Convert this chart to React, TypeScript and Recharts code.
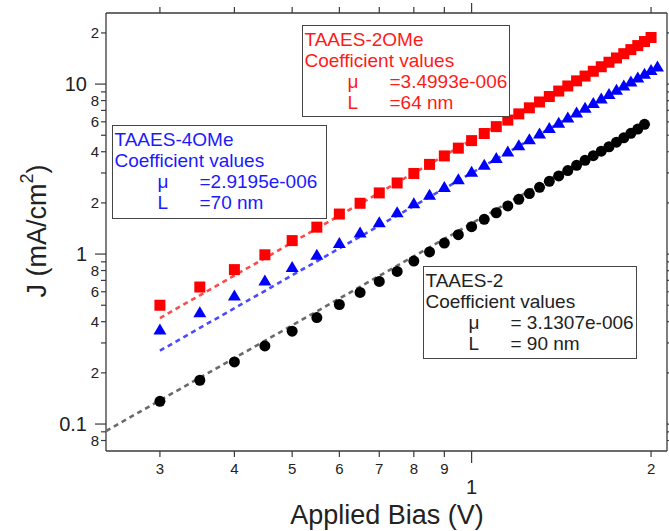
import React from 'react';
import { ScatterChart, Scatter, XAxis, YAxis } from 'recharts';

// Applied bias (V), 0.05 V steps
const biasV = [
  0.3, 0.35, 0.4, 0.45, 0.5, 0.55, 0.6, 0.65, 0.7, 0.75, 0.8, 0.85, 0.9, 0.95,
  1.0, 1.05, 1.1, 1.15, 1.2, 1.25, 1.3, 1.35, 1.4, 1.45, 1.5, 1.55, 1.6, 1.65,
  1.7, 1.75, 1.8, 1.85, 1.9, 1.95, 2.0, 2.05,
];

// Current density J (mA/cm2) per device
const jTAAES2 = [
  0.136, 0.181, 0.232, 0.288, 0.352, 0.423, 0.505, 0.595, 0.69, 0.79, 0.91, 1.03,
  1.16, 1.3, 1.45, 1.6, 1.75, 1.92, 2.1, 2.27, 2.47, 2.68, 2.88, 3.1, 3.33, 3.56,
  3.79, 4.03, 4.28, 4.55, 4.83, 5.13, 5.44, 5.8,
];
const jTAAES2OMe = [
  0.5, 0.64, 0.81, 0.99, 1.2, 1.44, 1.72, 1.99, 2.29, 2.62, 2.98, 3.37, 3.78, 4.2,
  4.65, 5.12, 5.62, 6.14, 6.68, 7.25, 7.85, 8.45, 9.1, 9.75, 10.45, 11.15, 11.9,
  12.65, 13.45, 14.25, 15.1, 15.95, 16.85, 17.8, 18.8,
];
const jTAAES4OMe = [
  0.36, 0.455, 0.57, 0.7, 0.84, 0.99, 1.16, 1.34, 1.54, 1.76, 1.99, 2.23, 2.48,
  2.76, 3.05, 3.35, 3.68, 4.01, 4.37, 4.74, 5.12, 5.52, 5.93, 6.36, 6.8, 7.26,
  7.74, 8.23, 8.74, 9.26, 9.8, 10.35, 10.92, 11.5, 12.1, 12.7,
];

// Fit line end points (V, J)
const fitV2 = [0.2436, 1.95];
const fitJ2 = [0.091, 5.72];
const fitV2OMe = [0.3, 2.0];
const fitJ2OMe = [0.42, 18.8];
const fitV4OMe = [0.3, 2.05];
const fitJ4OMe = [0.27, 12.6];

const xTicks = [0.3, 0.4, 0.5, 0.6, 0.7, 0.8, 0.9, 1, 2];
const xTickLabels = ['3', '4', '5', '6', '7', '8', '9', '1', '2'];
const yTicks = [
  0.08, 0.09, 0.1, 0.2, 0.3, 0.4, 0.5, 0.6, 0.7, 0.8, 0.9, 1, 2, 3, 4, 5, 6, 7, 8,
  9, 10, 20,
];
const yTickLabels = [
  '8', '', '0.1', '2', '', '4', '', '6', '', '8', '', '1', '2', '', '4', '', '6',
  '', '8', '', '10', '2',
];
const yMajor = [0.1, 1, 10];

const X_DOMAIN: [number, number] = [0.2436, 2.127];
const Y_DOMAIN: [number, number] = [0.0694, 26.2];

const FONT = '"Liberation Sans", Arial, sans-serif';
const AXIS = '#3a3a3a';
const INK = '#222';

const toPoints = (vs: number[], js: number[]) => js.map((j, i) => ({ v: vs[i], j }));

const BottomTick = ({ x, y, payload }: any) => {
  const i = xTicks.indexOf(payload.value);
  const major = payload.value === 1;
  return (
    <g>
      <line x1={x} y1={y} x2={x} y2={y + (major ? 12 : 6)} stroke={AXIS} strokeWidth={1.2} />
      <text
        x={x}
        y={y + (major ? 36 : 18)}
        dy="0.35em"
        textAnchor="middle"
        fontFamily={FONT}
        fontSize={major ? 20 : 15}
        fill={INK}
      >
        {xTickLabels[i]}
      </text>
    </g>
  );
};

const TopTick = ({ x, y, payload }: any) => {
  const major = payload.value === 1;
  return <line x1={x} y1={y} x2={x} y2={y - (major ? 10 : 6)} stroke={AXIS} strokeWidth={1.2} />;
};

const LeftTick = ({ x, y, payload }: any) => {
  const i = yTicks.indexOf(payload.value);
  const major = yMajor.includes(payload.value);
  return (
    <g>
      <line x1={x} y1={y} x2={x - (major ? 11 : 5)} y2={y} stroke={AXIS} strokeWidth={1.2} />
      <text
        x={x - (major ? 19 : 7)}
        y={y}
        dy="0.35em"
        textAnchor="end"
        fontFamily={FONT}
        fontSize={major ? 20 : 15}
        fill={INK}
      >
        {yTickLabels[i]}
      </text>
    </g>
  );
};

const RightTick = ({ x, y, payload }: any) => {
  const major = yMajor.includes(payload.value);
  return <line x1={x} y1={y} x2={x + (major ? 8 : 4)} y2={y} stroke={AXIS} strokeWidth={1.2} />;
};

const XTitle = () => (
  <text x={387} y={524} textAnchor="middle" fontFamily={FONT} fontSize={27} fill={INK}>
    Applied Bias (V)
  </text>
);

const YTitle = () => (
  <text
    transform="rotate(-90)"
    x={-231}
    y={46}
    textAnchor="middle"
    fontFamily={FONT}
    fontSize={27}
    fill={INK}
  >
    J (mA/cm
    <tspan dy={-13} fontSize={18}>2</tspan>
    <tspan dy={13}>)</tspan>
  </text>
);

const Square = ({ cx, cy }: any) => (
  <rect x={cx - 5.5} y={cy - 5.5} width={11} height={11} fill="#ff0000" />
);
const Triangle = ({ cx, cy }: any) => (
  <polygon points={`${cx},${cy - 6} ${cx - 6.5},${cy + 5} ${cx + 6.5},${cy + 5}`} fill="#0000ff" />
);
const Dot = ({ cx, cy }: any) => <circle cx={cx} cy={cy} r={5.5} fill="#000" />;
const NoMark = () => <g />;

interface BoxProps {
  left: number;
  top: number;
  width: number;
  height: number;
  color: string;
  title: string;
  mu: string;
  len: string;
}

const CoefBox = ({ left, top, width, height, color, title, mu, len }: BoxProps) => (
  <div
    style={{
      position: 'absolute',
      left,
      top,
      width,
      height,
      boxSizing: 'border-box',
      border: '1.3px solid #444',
      background: '#fff',
      color,
      fontFamily: FONT,
      fontSize: 19,
      lineHeight: '21.3px',
      paddingTop: 2.5,
      paddingLeft: 1.5,
      whiteSpace: 'nowrap',
    }}
  >
    <div>{title}</div>
    <div>Coefficient values</div>
    <div style={{ position: 'relative', height: 21.3 }}>
      <span style={{ position: 'absolute', left: 43 }}>μ</span>
      <span style={{ position: 'absolute', left: 85 }}>{mu}</span>
    </div>
    <div style={{ position: 'relative', height: 21.3 }}>
      <span style={{ position: 'absolute', left: 43 }}>L</span>
      <span style={{ position: 'absolute', left: 85 }}>{len}</span>
    </div>
  </div>
);

export default function App() {
  const axisLine = { stroke: AXIS, strokeWidth: 1.3 };
  return (
    <div style={{ position: 'absolute', left: 0, top: 0, width: 669, height: 531, background: '#fff' }}>
      <ScatterChart width={669} height={531} margin={{ top: 0, right: 0, bottom: 0, left: 0 }}>
        <XAxis
          xAxisId="b"
          type="number"
          dataKey="v"
          scale="log"
          domain={X_DOMAIN}
          allowDataOverflow
          ticks={xTicks}
          interval={0}
          height={80}
          tickSize={0}
          tickMargin={0}
          tickLine={false}
          axisLine={axisLine}
          tick={(p: any) => <BottomTick {...p} />}
          label={<XTitle />}
        />
        <XAxis
          xAxisId="t"
          orientation="top"
          type="number"
          dataKey="v"
          scale="log"
          domain={X_DOMAIN}
          allowDataOverflow
          ticks={xTicks}
          interval={0}
          height={13}
          tickSize={0}
          tickMargin={0}
          tickLine={false}
          axisLine={axisLine}
          tick={(p: any) => <TopTick {...p} />}
        />
        <YAxis
          yAxisId="l"
          type="number"
          dataKey="j"
          scale="log"
          domain={Y_DOMAIN}
          allowDataOverflow
          ticks={yTicks}
          interval={0}
          width={106}
          tickSize={0}
          tickMargin={0}
          tickLine={false}
          axisLine={axisLine}
          tick={(p: any) => <LeftTick {...p} />}
          label={<YTitle />}
        />
        <YAxis
          yAxisId="r"
          orientation="right"
          type="number"
          dataKey="j"
          scale="log"
          domain={Y_DOMAIN}
          allowDataOverflow
          ticks={yTicks}
          interval={0}
          width={2}
          tickSize={0}
          tickMargin={0}
          tickLine={false}
          axisLine={axisLine}
          tick={(p: any) => <RightTick {...p} />}
        />

        {/* linear fits (dashed) */}
        <Scatter
          xAxisId="b"
          yAxisId="l"
          data={toPoints(fitV2, fitJ2)}
          line={{ stroke: '#6a6a6a', strokeWidth: 2.6, strokeDasharray: '5 4' }}
          shape={NoMark}
          isAnimationActive={false}
        />
        <Scatter
          xAxisId="b"
          yAxisId="l"
          data={toPoints(fitV4OMe, fitJ4OMe)}
          line={{ stroke: '#4a4aff', strokeWidth: 2.6, strokeDasharray: '5 4' }}
          shape={NoMark}
          isAnimationActive={false}
        />
        <Scatter
          xAxisId="b"
          yAxisId="l"
          data={toPoints(fitV2OMe, fitJ2OMe)}
          line={{ stroke: '#ff4a4a', strokeWidth: 2.6, strokeDasharray: '5 4' }}
          shape={NoMark}
          isAnimationActive={false}
        />

        {/* measured J-V */}
        <Scatter xAxisId="b" yAxisId="l" data={toPoints(biasV, jTAAES2)} shape={Dot} isAnimationActive={false} />
        <Scatter xAxisId="b" yAxisId="l" data={toPoints(biasV, jTAAES4OMe)} shape={Triangle} isAnimationActive={false} />
        <Scatter xAxisId="b" yAxisId="l" data={toPoints(biasV, jTAAES2OMe)} shape={Square} isAnimationActive={false} />
      </ScatterChart>

      <CoefBox left={302} top={25} width={208} height={92} color="#ff1a1a" title="TAAES-2OMe" mu="=3.4993e-006" len="=64 nm" />
      <CoefBox left={112} top={125} width={215} height={94} color="#1a1aff" title="TAAES-4OMe" mu="=2.9195e-006" len="=70 nm" />
      <CoefBox left={423} top={266} width={214} height={93} color="#222" title="TAAES-2" mu="= 3.1307e-006" len="= 90 nm" />
    </div>
  );
}
